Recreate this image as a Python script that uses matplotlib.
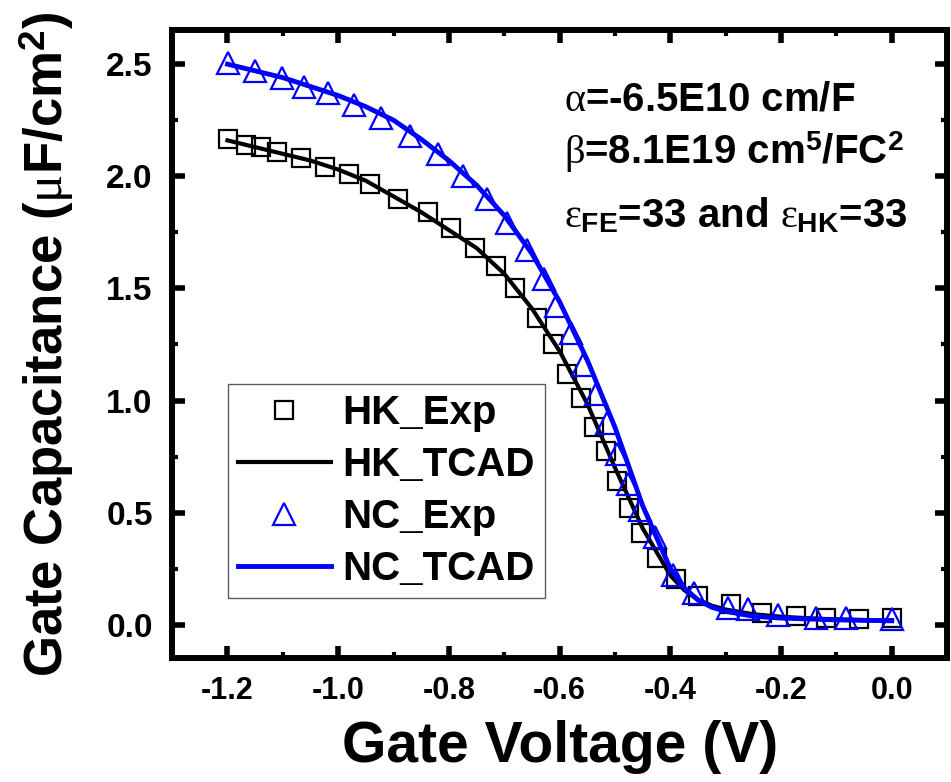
import numpy as np
import matplotlib
matplotlib.use("Agg")
import matplotlib.pyplot as plt

plt.rcParams['font.family'] = ['Liberation Sans', 'DejaVu Sans']
plt.rcParams['font.weight'] = 'bold'
plt.rcParams['mathtext.fontset'] = 'custom'
plt.rcParams['mathtext.rm'] = 'Liberation Sans:weight=bold'
plt.rcParams['mathtext.bf'] = 'Liberation Sans:weight=bold'
plt.rcParams['mathtext.it'] = 'Liberation Serif:weight=normal'

hk_exp_v = [-1.199, -1.166, -1.139, -1.110, -1.067, -1.023, -0.980, -0.942, -0.892, -0.838,
            -0.796, -0.753, -0.715, -0.680, -0.641, -0.612, -0.587, -0.561, -0.538, -0.516,
            -0.496, -0.475, -0.453, -0.424, -0.390, -0.350, -0.290, -0.234, -0.173, -0.119,
            -0.059, 0.0]
hk_exp_c = [2.166, 2.14, 2.13, 2.11, 2.08, 2.04, 2.01, 1.965, 1.90, 1.84,
            1.77, 1.68, 1.60, 1.50, 1.37, 1.25, 1.12, 1.01, 0.88, 0.775,
            0.64, 0.52, 0.41, 0.30, 0.205, 0.13, 0.094, 0.053, 0.04, 0.031,
            0.027, 0.031]

nc_exp_v = [-1.199, -1.150, -1.101, -1.061, -1.018, -0.971, -0.922, -0.870, -0.819, -0.774,
            -0.731, -0.695, -0.659, -0.628, -0.607, -0.580, -0.557, -0.535, -0.515, -0.497,
            -0.476, -0.454, -0.427, -0.395, -0.357, -0.296, -0.259, -0.205, -0.137, -0.083,
            0.0]
nc_exp_c = [2.505, 2.47, 2.44, 2.40, 2.37, 2.32, 2.26, 2.18, 2.10, 2.00,
            1.90, 1.79, 1.67, 1.54, 1.42, 1.30, 1.16, 1.03, 0.90, 0.76,
            0.63, 0.51, 0.39, 0.22, 0.14, 0.076, 0.07, 0.045, 0.03, 0.03,
            0.027]

# TCAD simulation curves
tcad_v = [-1.20, -1.15, -1.10, -1.05, -1.00, -0.95, -0.90, -0.85, -0.80, -0.75,
          -0.70, -0.65, -0.60, -0.55, -0.50, -0.45, -0.40, -0.375, -0.35, -0.325,
          -0.30, -0.25, -0.20, -0.15, -0.10, -0.05, 0.00]
hk_tcad_c = [2.16, 2.13, 2.10, 2.07, 2.03, 1.98, 1.91, 1.84, 1.76, 1.68,
             1.565, 1.41, 1.22, 0.985, 0.70, 0.43, 0.22, 0.155, 0.112, 0.085,
             0.068, 0.047, 0.036, 0.029, 0.024, 0.021, 0.02]
nc_tcad_c = [2.50, 2.47, 2.44, 2.40, 2.36, 2.31, 2.25, 2.165, 2.07, 1.96,
             1.825, 1.655, 1.44, 1.18, 0.88, 0.53, 0.25, 0.165, 0.11, 0.078,
             0.06, 0.038, 0.03, 0.026, 0.022, 0.02, 0.018]

fig = plt.figure(figsize=(9.51, 7.82), dpi=100)
ax = fig.add_axes([0.181, 0.158, 0.815, 0.803])

ax.plot(hk_exp_v, hk_exp_c, 's', ms=12.5, mfc='none', mec='black', mew=1.6, label='HK_Exp')
ax.plot(tcad_v, hk_tcad_c, '-', color='black', lw=3.0, label='HK_TCAD')
ax.plot(nc_exp_v, nc_exp_c, '^', ms=16, mfc='none', mec='#0000ff', mew=1.6, label='NC_Exp')
ax.plot(tcad_v, nc_tcad_c, '-', color='#0000ff', lw=3.5, label='NC_TCAD')

ax.set_xlim(-1.3, 0.1)
ax.set_ylim(-0.15, 2.65)
ax.set_xticks(np.arange(-1.2, 0.01, 0.2))
ax.set_xticks(np.arange(-1.3, 0.1, 0.1), minor=True)
ax.set_yticks(np.arange(0.0, 2.51, 0.5))
ax.set_yticks(np.arange(-0.0, 2.65, 0.25), minor=True)
ax.set_xticklabels(['-1.2', '-1.0', '-0.8', '-0.6', '-0.4', '-0.2', '0.0'])
ax.set_yticklabels(['0.0', '0.5', '1.0', '1.5', '2.0', '2.5'])

for s in ax.spines.values():
    s.set_linewidth(4.3)
ax.tick_params(which='major', direction='in', length=9, width=4, top=True, right=True)
ax.tick_params(which='minor', direction='in', length=4.5, width=3, top=True, right=True)
ax.tick_params(axis='x', which='major', labelsize=22, pad=13)
ax.tick_params(axis='y', which='major', labelsize=24, pad=14)

ax.set_xlabel('Gate Voltage (V)', fontsize=41, fontweight='bold', labelpad=10)
ax.set_ylabel(r'Gate Capacitance ($\mathit{\mu}$F/cm$^2$)', fontsize=38, fontweight='bold', labelpad=22)

ax.text(0.506, 0.890, r'$\mathit{\alpha}$=-6.5E10 cm/F', transform=ax.transAxes, fontsize=29,
        fontweight='bold', va='center')
ax.text(0.506, 0.806, r'$\mathit{\beta}$=8.1E19 cm$^5$/FC$^2$', transform=ax.transAxes, fontsize=29,
        fontweight='bold', va='center')
ax.text(0.506, 0.706, r'$\mathit{\varepsilon}_{\mathregular{FE}}$=33 and $\mathit{\varepsilon}_{\mathregular{HK}}$=33',
        transform=ax.transAxes, fontsize=29, fontweight='bold', va='center')

leg = ax.legend(loc='lower left', bbox_to_anchor=(0.072, 0.0955), fontsize=29, frameon=True, fancybox=False,
                edgecolor='#333333', handlelength=2.3, handletextpad=0.3, labelspacing=0.35, borderpad=0.25,
                borderaxespad=0)
leg.get_frame().set_linewidth(1.0)

fig.savefig('out.png', dpi=100)
